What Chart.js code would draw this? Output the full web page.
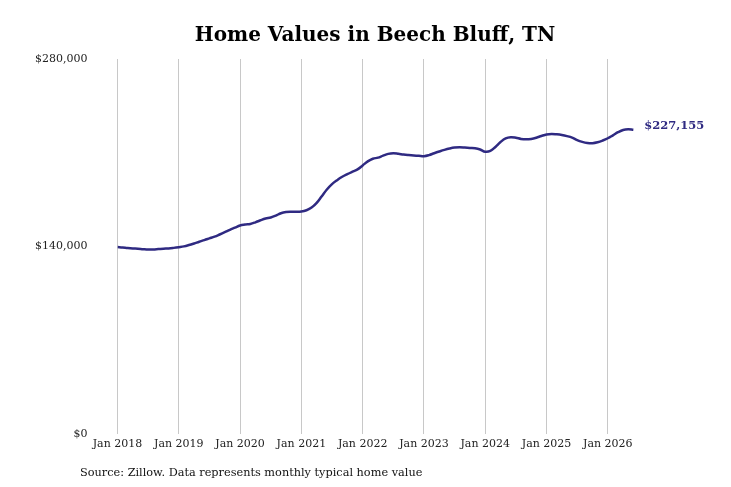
<!DOCTYPE html>
<html>
<head>
<meta charset="utf-8">
<script src="https://cdn.jsdelivr.net/npm/chart.js@4.4.1/dist/chart.umd.min.js"></script>
<style>
  html, body { margin: 0; padding: 0; background: #fff; }
  #wrap { width: 731px; height: 487px; }
</style>
</head>
<body>
<div id="wrap"><canvas id="home-graph" width="731" height="487"></canvas></div>
<script>
// monthly typical home value, Jan 2018 .. Jun 2026
const startYear = 2018;
const values = [
    139500, 139200, 138800, 138500, 138300, 137900, 137600, 137700, 138000, 138300, 138500, 138900, // 2018
    139400, 140000, 141000, 142200, 143500, 144700, 146000, 147300, 148900, 150600, 152400, 154000, // 2019
    155600, 156300, 156800, 158000, 159500, 160800, 161600, 163000, 164800, 165700, 165900, 165800, // 2020
    166000, 167000, 169000, 172500, 177500, 182500, 186500, 189500, 192000, 194000, 195800, 197500, // 2021
    200500, 203500, 205500, 206300, 207800, 209100, 209600, 209200, 208600, 208200, 207900, 207700, // 2022
    207400, 208200, 209600, 210900, 212100, 213100, 213800, 214000, 213800, 213500, 213300, 212400, // 2023
    210700, 211300, 214300, 218000, 220700, 221600, 221200, 220300, 220000, 220300, 221200, 222500, // 2024
    223600, 224000, 223700, 223200, 222400, 221300, 219400, 218100, 217300, 217100, 217800, 219100, // 2025
    220800, 223000, 225300, 227000, 227500, 227155                                                  // 2026
];
const tickLabels = ['Jan 2018', 'Jan 2019', 'Jan 2020', 'Jan 2021', 'Jan 2022', 'Jan 2023', 'Jan 2024', 'Jan 2025', 'Jan 2026'];
const yTicks = [0, 140000, 280000];

const lineColor = '#2f2a82';
const serif = "'DejaVu Serif', 'Liberation Serif', serif";

function money(v) {
    return '$' + v.toLocaleString('en-US');
}

const points = values.map((v, i) => ({ x: i, y: v }));

// title, label next to the last point, source line
const extras = {
    id: 'extras',
    afterDatasetsDraw(chart) {
        const ctx = chart.ctx;
        const meta = chart.getDatasetMeta(0);
        const last = meta.data[meta.data.length - 1];
        ctx.save();
        ctx.font = 'bold 20px ' + serif;
        ctx.fillStyle = '#000';
        ctx.textAlign = 'center';
        ctx.textBaseline = 'middle';
        ctx.fillText('Home Values in Beech Bluff, TN', 375, 36);
        ctx.textAlign = 'left';
        ctx.font = 'bold 11.5px ' + serif;
        ctx.fillStyle = lineColor;
        ctx.fillText(money(values[values.length - 1]), last.x + 11, last.y - 4);
        ctx.font = '11.3px ' + serif;
        ctx.fillStyle = '#111';
        ctx.textBaseline = 'alphabetic';
        ctx.fillText('Source: Zillow. Data represents monthly typical home value', 80, 476);
        ctx.restore();
    }
};

const ctx = document.getElementById('home-graph').getContext('2d');
new Chart(ctx, {
    type: 'line',
    data: {
        datasets: [{
            data: points,
            borderColor: lineColor,
            borderWidth: 2.5,
            pointRadius: 0,
            fill: false,
            tension: 0.4
        }]
    },
    options: {
        responsive: false,
        animation: false,
        layout: { padding: { top: 59, right: 67, bottom: 32, left: 13 } },
        plugins: {
            legend: { display: false },
            tooltip: { enabled: false },
            title: { display: false }
        },
        scales: {
            x: {
                type: 'linear',
                min: 0,
                max: 107,
                grid: { color: '#c8c8c8', drawTicks: false },
                border: { display: false },
                ticks: {
                    stepSize: 12,
                    includeBounds: false,
                    padding: 4,
                    color: '#222',
                    font: { family: serif, size: 11 },
                    maxRotation: 0,
                    callback: (v) => tickLabels[v / 12]
                }
            },
            y: {
                min: 0,
                max: 280000,
                afterBuildTicks: (axis) => { axis.ticks = yTicks.map(v => ({ value: v })); },
                grid: { display: false },
                border: { display: false },
                ticks: {
                    padding: 22,
                    color: '#222',
                    font: { family: serif, size: 11 },
                    callback: (v) => money(v)
                }
            }
        }
    },
    plugins: [extras]
});
</script>
</body>
</html>
